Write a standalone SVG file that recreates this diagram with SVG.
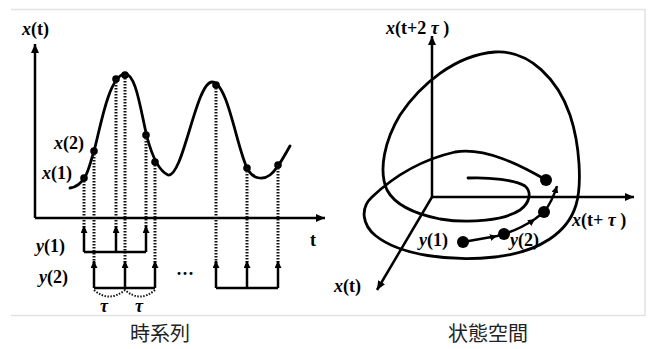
<svg xmlns="http://www.w3.org/2000/svg" width="648" height="349" viewBox="0 0 648 349">
<style>
.frame{fill:none;stroke:#e2e2e2;stroke-width:1.5}
.ax{fill:none;stroke:#000;stroke-width:2.5}
.crv{fill:none;stroke:#000;stroke-width:2.8;stroke-linecap:round}
.br{fill:none;stroke:#000;stroke-width:2.5}
.dot{fill:none;stroke:#111;stroke-width:3;stroke-dasharray:1.5 1.5}
.lbl{font-family:'Liberation Serif','Times New Roman',serif;font-weight:bold;font-size:18px;fill:#000}
.it{font-style:italic}
.cap{font-family:'Noto Sans CJK JP','Noto Sans CJK SC',sans-serif;font-size:20px;fill:#222;text-anchor:middle}
.pt{fill:#000}
</style>
<defs>
<marker id="ah" markerUnits="userSpaceOnUse" markerWidth="10" markerHeight="8" refX="9" refY="4" orient="auto"><path d="M0,0 L9,4 L0,8 z" fill="#000"/></marker>
<marker id="sa" markerUnits="userSpaceOnUse" markerWidth="8" markerHeight="7" refX="7" refY="3.5" orient="auto"><path d="M0,0 L7,3.5 L0,7 z" fill="#000"/></marker>
</defs>

<g id="frame">
<path class="frame" d="M11,9.5 H645 V315.5 H11"/>
</g>

<g id="time-series">
<g id="ts-axes">
<path class="ax" d="M35,218 V44" marker-end="url(#ah)"/>
<path class="ax" d="M35,218 H325" marker-end="url(#ah)"/>
<text class="lbl" x="22" y="35"><tspan class="it">x</tspan>(t)</text>
<text class="lbl" x="310" y="246">t</text>
</g>
<g id="ts-curve">
<path class="crv" d="M70,188 C78,187 82,182 85,177 C89,170 91,160 94,151 C100,130 108,78 124,74 C136,71 141,113 147,137 C151,152 157,170 168,175 C183,178 196,82 212,82 C228,82 237,150 248,170 C253,178 262,181 270,175 C278,169 284,156 290,146"/>
<circle class="pt" cx="84" cy="178" r="3.8"/>
<circle class="pt" cx="94" cy="151" r="3.8"/>
<circle class="pt" cx="116" cy="79" r="3.8"/>
<circle class="pt" cx="125" cy="75" r="3.8"/>
<circle class="pt" cx="146" cy="135" r="3.8"/>
<circle class="pt" cx="155" cy="162" r="3.8"/>
<circle class="pt" cx="216" cy="85" r="3.8"/>
<circle class="pt" cx="247" cy="168" r="3.8"/>
<circle class="pt" cx="278" cy="165" r="3.8"/>
<text class="lbl" x="54" y="149"><tspan class="it">x</tspan>(2)</text>
<text class="lbl" x="42" y="179"><tspan class="it">x</tspan>(1)</text>
</g>
<g id="ts-connectors">
<path class="dot" d="M84,178 V232 M116,79 V232 M146,135 V232 M94,151 V267 M125,75 V267 M155,162 V267 M216,85 V267 M247,168 V267 M278,165 V267"/>
<path class="dot" d="M94,290 Q109,303 125,290 Q140,303 155,290" style="stroke-width:2"/>
</g>
<g id="y1">
<path class="br" d="M84,252 H146"/>
<path class="br" d="M84,252 V226" marker-end="url(#sa)"/>
<path class="br" d="M116,252 V226" marker-end="url(#sa)"/>
<path class="br" d="M146,252 V226" marker-end="url(#sa)"/>
<text class="lbl" x="36" y="252"><tspan class="it">y</tspan>(1)</text>
</g>
<g id="y2">
<path class="br" d="M94,288 H155"/>
<path class="br" d="M94,288 V261" marker-end="url(#sa)"/>
<path class="br" d="M125,288 V261" marker-end="url(#sa)"/>
<path class="br" d="M155,288 V261" marker-end="url(#sa)"/>
<text class="lbl" x="39" y="283"><tspan class="it">y</tspan>(2)</text>
<text class="lbl it" x="100" y="312" font-size="16">τ</text>
<text class="lbl it" x="135" y="312" font-size="16">τ</text>
</g>
<g id="yn">
<text class="lbl" x="176" y="280">···</text>
<path class="br" d="M216,288 H278"/>
<path class="br" d="M216,288 V261" marker-end="url(#sa)"/>
<path class="br" d="M247,288 V261" marker-end="url(#sa)"/>
<path class="br" d="M278,288 V261" marker-end="url(#sa)"/>
</g>
<text id="cap-left" class="cap" x="160" y="341">時系列</text>
</g>

<g id="state-space">
<g id="ss-axes">
<path class="ax" d="M432,197 V36" marker-end="url(#ah)"/>
<path class="ax" d="M432,197 H634" marker-end="url(#ah)"/>
<path class="ax" d="M432,197 L377,290" marker-end="url(#ah)"/>
<text class="lbl" x="386" y="34"><tspan class="it">x</tspan>(t+2 <tspan class="it">τ</tspan> )</text>
<text class="lbl" x="572" y="226"><tspan class="it">x</tspan>(t+ <tspan class="it">τ</tspan> )</text>
<text class="lbl" x="334" y="292"><tspan class="it">x</tspan>(t)</text>
</g>
<g id="attractor">
<path class="crv" d="M468,178 C490,177 515,180 525,186 C532,192 530,203 520,210 C505,220 470,224 440,219 C415,214 395,205 387,190 C378,170 385,140 400,115 C420,85 455,55 495,52 C530,50 558,80 570,115 C580,145 582,185 576,205 C568,232 540,252 495,257 C450,262 400,255 376,236 C362,225 360,208 372,197 C392,178 420,160 455,152 C485,147 520,165 546,180"/>
<circle class="pt" cx="546" cy="180" r="6"/>
</g>
<g id="trajectory">
<path class="ax" d="M463,242 L497,236 L504,234" marker-mid="url(#sa)"/>
<path class="ax" d="M504,234 Q520,229 535,219 L544,212" marker-mid="url(#sa)"/>
<path class="ax" d="M544,212 Q552,202 557,186" marker-end="url(#sa)"/>
<circle class="pt" cx="463" cy="242" r="6"/>
<circle class="pt" cx="504" cy="234" r="6"/>
<circle class="pt" cx="544" cy="212" r="6"/>
<text class="lbl" x="419" y="246"><tspan class="it">y</tspan>(1)</text>
<text class="lbl" x="510" y="246"><tspan class="it">y</tspan>(2)</text>
</g>
<text id="cap-right" class="cap" x="488" y="341">状態空間</text>
</g>
</svg>
